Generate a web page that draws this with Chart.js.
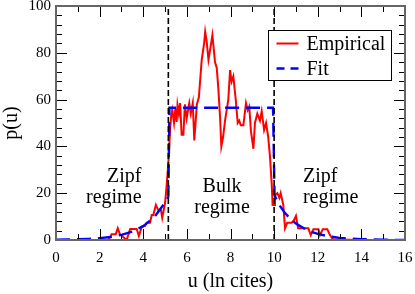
<!DOCTYPE html>
<html><head><meta charset="utf-8">
<script src="https://cdn.jsdelivr.net/npm/chart.js@4/dist/chart.umd.min.js"></script>
<style>html,body{margin:0;padding:0;background:#fff;}</style>
</head><body>
<canvas id="c" width="415" height="294"></canvas>
<script>
// ---- data ----
const empiricalU = [2.40,2.55,2.74,2.83,2.93,3.24,3.40,3.70,3.80,3.93,4.08,4.16,4.31,4.39,4.46,4.58,4.69,4.81,4.87,5.00,5.08,5.17,5.23,5.28,5.33,5.41,5.47,5.53,5.57,5.63,5.69,5.76,5.84,5.91,5.99,6.11,6.18,6.27,6.34,6.46,6.55,6.68,6.79,6.84,6.91,6.99,7.06,7.17,7.29,7.37,7.44,7.52,7.58,7.66,7.75,7.90,7.98,8.05,8.13,8.24,8.33,8.40,8.47,8.59,8.71,8.79,8.86,8.94,9.05,9.12,9.23,9.35,9.43,9.54,9.63,9.73,9.81,9.89,9.93,10.00,10.04,10.15,10.24,10.30,10.42,10.50,10.60,10.80,10.90,11.00,11.10,11.26,11.57,11.68,11.80,12.03,12.10,12.23,12.44,12.56,12.69,13.80];
const empiricalP = [0,2.5,2.5,5,2.5,0,4.7,4.7,1.7,5.7,6,7.4,7.4,10.7,10.7,15,12.8,12.8,9.5,15.8,24,35.6,47,53,55.5,50,56,50.5,57.7,54,58.5,45,45,58,52,58.5,54,58.5,42.5,58,61,77,84,89,84.7,77,81,87.5,76,73.5,65,52.7,40,44,51,60,72.6,67.7,70,60,50,51,49,49,58.5,55.5,57,46.3,39,50,54,51,55,47,50,44,35.6,24,15,15,19,20,18,20,15,5,7.4,7.4,8.3,10.3,5,5,5,2.1,4.6,4.6,2.1,4.6,4.6,2.1,0.3,0];
const fitU = [0,0.5,1,1.5,2,2.5,3,3.5,4,4.5,5,5.15,5.2,9.95,10.02,10.25,10.5,10.75,11,11.5,12,12.5,13,13.5,14,15,16];
const fitP = [0.1,0.2,0.3,0.5,0.8,1.3,2.2,3.6,5.9,9.7,16,18.5,56.5,56.5,19,14.8,11.5,9,7,4.2,2.6,1.6,0.9,0.6,0.35,0.1,0.05];
const regimeBoundaries = [5.15, 10.0];
const seriesNames = ['Empirical', 'Fit'];
const regimeText = [['Zipf','regime'], ['Bulk','regime'], ['Zipf','regime']];
const xTitle = 'u (ln cites)';
const yTitle = 'p(u)';

const FONT = "'Liberation Serif', 'Times New Roman', serif";

function pts(xs, ys){ return xs.map((v,i)=>({x:v, y:ys[i]})); }

const boundaryDatasets = regimeBoundaries.map(b => ({
  label: 'boundary', data: [{x:b,y:0},{x:b,y:100}], showLine: true,
  borderColor: '#000', borderWidth: 1.6, borderDash: [6,3], pointRadius: 0, fill: false
}));

const decorPlugin = {
  id: 'decor',
  afterDatasetsDraw(chart){
    const {ctx, chartArea:{left,right,top,bottom}, scales:{x,y}} = chart;
    ctx.save();
    // inward ticks
    ctx.strokeStyle = '#000'; ctx.lineWidth = 1;
    ctx.beginPath();
    for (let v = 0; v <= 16; v += 1) {
      const px = Math.round(x.getPixelForValue(v)) + 0.5;
      const len = (v % 2 === 0) ? 11 : 6;
      ctx.moveTo(px, bottom); ctx.lineTo(px, bottom - len);
      ctx.moveTo(px, top); ctx.lineTo(px, top + len);
    }
    for (let v = 0; v <= 100; v += 4) {
      const py = Math.round(y.getPixelForValue(v)) + 0.5;
      const len = (v % 20 === 0) ? 11 : 6;
      ctx.moveTo(left, py); ctx.lineTo(left + len, py);
      ctx.moveTo(right, py); ctx.lineTo(right - len, py);
    }
    ctx.stroke();
    // frame
    ctx.strokeStyle = '#666'; ctx.lineWidth = 2;
    ctx.strokeRect(left, top, right - left, bottom - top);
    ctx.restore();
  },
  afterDraw(chart){
    const {ctx, chartArea:{left,right,top,bottom}, scales:{x,y}} = chart;
    ctx.save();
    ctx.fillStyle = '#000';
    ctx.font = "20px " + FONT;
    ctx.textBaseline = 'alphabetic';
    // regime labels
    const anchors = [{u:3.92, al:'right', p:[24.8,15.8]}, {u:7.61, al:'center', p:[20.5,11.5]}, {u:11.32, al:'left', p:[24.8,15.8]}];
    regimeText.forEach((lines, i) => {
      const a = anchors[i];
      ctx.textAlign = a.al;
      lines.forEach((t, j) => ctx.fillText(t, x.getPixelForValue(a.u), y.getPixelForValue(a.p[j])));
    });
    // legend
    const bx = right - 136.5, by = top + 24.5, bw = 123, bh = 50;
    ctx.fillStyle = '#fff';
    ctx.fillRect(bx, by, bw, bh);
    ctx.strokeStyle = '#000'; ctx.lineWidth = 1;
    ctx.strokeRect(bx, by, bw, bh);
    seriesNames.forEach((name, i) => {
      const d = chart.data.datasets.find(ds => ds.label === name);
      const cy = by + 13 + i * 25;
      ctx.strokeStyle = d.borderColor; ctx.lineWidth = d.borderWidth;
      ctx.setLineDash(name === 'Fit' ? [8,6] : []);
      ctx.beginPath(); ctx.moveTo(bx + 8, cy); ctx.lineTo(bx + 30, cy); ctx.stroke();
      ctx.setLineDash([]);
      ctx.fillStyle = '#000'; ctx.textAlign = 'left'; ctx.textBaseline = 'middle';
      ctx.fillText(name, bx + 38, cy + 1);
    });
    ctx.restore();
  }
};

new Chart(document.getElementById('c'), {
  type: 'scatter',
  data: {
    datasets: [
      ...boundaryDatasets,
      { label: seriesNames[1], data: pts(fitU, fitP), showLine: true, borderColor: '#0000ff', borderWidth: 2.4, borderDash: [14,7], pointRadius: 0, fill: false },
      { label: seriesNames[0], data: pts(empiricalU, empiricalP), showLine: true, borderColor: '#ff0000', borderWidth: 2, pointRadius: 0, fill: false }
    ]
  },
  options: {
    responsive: false, animation: false, devicePixelRatio: 1,
    layout: { padding: { left: 0, right: 10, top: 6, bottom: 0 } },
    plugins: { legend: { display: false }, tooltip: { enabled: false } },
    scales: {
      x: {
        type: 'linear', min: 0, max: 16,
        grid: { display: false, drawTicks: false, tickLength: 0 },
        border: { display: false },
        ticks: { stepSize: 2, color: '#000', font: { family: FONT, size: 15 }, padding: 9, maxRotation: 0 },
        title: { display: true, text: xTitle, color: '#000', font: { family: FONT, size: 20 }, padding: 0 },
        afterFit(s){ s.height = 54; s.paddingLeft = 0; s.paddingRight = 0; }
      },
      y: {
        type: 'linear', min: 0, max: 100,
        grid: { display: false, drawTicks: false, tickLength: 0 },
        border: { display: false },
        ticks: { stepSize: 20, color: '#000', font: { family: FONT, size: 15 }, padding: 5 },
        title: { display: true, text: yTitle, color: '#000', font: { family: FONT, size: 20 }, padding: 0 },
        afterFit(s){ s.width = 56; s.paddingTop = 0; s.paddingBottom = 0; }
      }
    }
  },
  plugins: [decorPlugin]
});
</script>
</body></html>
